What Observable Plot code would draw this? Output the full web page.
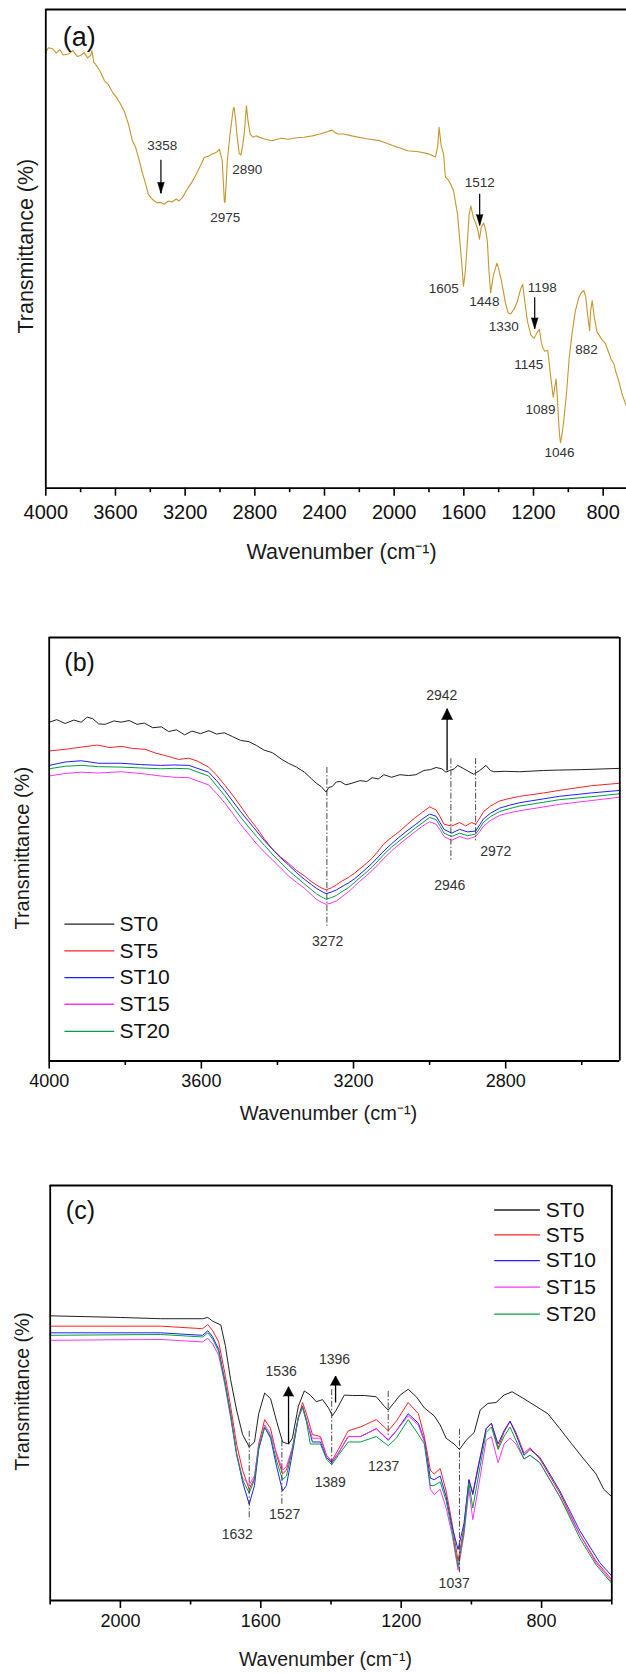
<!DOCTYPE html>
<html><head><meta charset="utf-8">
<script src="https://cdn.jsdelivr.net/npm/d3@7"></script>
<script src="https://cdn.jsdelivr.net/npm/@observablehq/plot@0.6"></script>
<style>
body{margin:0;background:#fff;}
#wrap svg{display:block;}
</style></head><body><div id="wrap"></div>
<script>
// ---------- DATA ----------
// Panel (a): single spectrum [wavenumber, relative transmittance]
const specA = [[4000,91.1],[3985,92.0],[3961,91.8],[3940,90.9],[3920,91.6],[3900,90.5],[3869,90.7],[3845,91.4],[3820,90.2],[3801,90.4],[3780,91.0],[3760,89.9],[3743,90.4],[3735,91.4],[3725,89.0],[3709,88.3],[3690,87.2],[3663,85.1],[3640,84.3],[3617,82.7],[3595,81.7],[3572,80.3],[3550,78.8],[3526,76.1],[3503,72.6],[3485,71.3],[3468,69.1],[3446,65.9],[3430,64.0],[3411,61.4],[3395,60.6],[3377,60.0],[3360,59.6],[3342,59.7],[3320,59.3],[3297,60.0],[3275,59.8],[3251,60.4],[3235,60.0],[3216,60.7],[3200,61.7],[3182,62.8],[3160,64.0],[3136,65.6],[3110,67.5],[3090,69.1],[3065,69.4],[3045,69.8],[3020,70.2],[3003,70.8],[2987,68.4],[2975,60.0],[2971,59.7],[2963,64.5],[2958,68.4],[2942,74.0],[2925,79.0],[2919,79.6],[2910,77.0],[2903,74.0],[2890,70.0],[2880,69.6],[2870,71.5],[2861,74.0],[2848,79.9],[2840,77.0],[2827,74.0],[2810,73.3],[2793,73.6],[2750,73.0],[2701,72.6],[2650,73.1],[2609,72.9],[2560,73.2],[2518,73.3],[2470,73.6],[2426,74.0],[2380,74.5],[2357,74.8],[2340,74.3],[2323,74.0],[2290,74.0],[2243,73.6],[2160,73.0],[2082,72.6],[2000,71.5],[1922,70.5],[1860,70.3],[1808,69.9],[1762,69.2],[1750,71.5],[1742,75.4],[1730,71.5],[1716,69.8],[1706,65.0],[1693,64.6],[1675,63.5],[1659,62.1],[1636,57.2],[1613,47.5],[1602,42.2],[1592,45.0],[1583,49.5],[1570,57.0],[1560,59.0],[1545,56.5],[1533,55.5],[1520,54.0],[1510,52.0],[1500,54.5],[1486,55.4],[1475,54.0],[1465,51.6],[1455,45.0],[1446,40.8],[1430,44.5],[1410,47.0],[1400,45.8],[1384,43.3],[1360,38.5],[1345,36.6],[1331,36.4],[1310,37.5],[1292,39.1],[1275,41.5],[1262,42.6],[1250,39.0],[1235,34.9],[1215,32.0],[1196,31.3],[1180,32.5],[1166,33.2],[1155,30.5],[1145,29.2],[1135,28.6],[1118,28.8],[1108,25.5],[1097,22.0],[1087,19.0],[1078,21.0],[1070,22.8],[1063,19.0],[1057,14.7],[1050,11.0],[1045,9.5],[1035,11.5],[1027,13.8],[1010,20.0],[995,27.2],[978,32.5],[960,37.0],[940,39.8],[926,40.8],[911,41.3],[900,40.0],[890,36.5],[878,32.9],[872,37.0],[863,39.2],[850,35.5],[835,32.6],[815,31.5],[800,30.7],[787,30.2],[770,28.5],[755,27.0],[739,26.0],[725,24.0],[711,22.5],[690,19.5],[667,17.2]];

// Panel (b): 4000–2500 cm-1
const st0B = [[4000,80.0],[3980,80.6],[3958,79.7],[3935,80.5],[3916,80.0],[3900,81.2],[3885,80.8],[3870,79.6],[3853,79.5],[3830,80.3],[3811,80.0],[3790,80.4],[3769,79.5],[3750,79.8],[3728,78.7],[3705,78.9],[3686,77.8],[3665,78.2],[3644,77.0],[3625,77.9],[3602,77.3],[3580,78.0],[3560,77.2],[3540,77.5],[3518,76.6],[3497,75.7],[3475,75.4],[3455,74.5],[3435,73.4],[3413,72.8],[3390,71.3],[3371,70.3],[3350,69.4],[3329,68.2],[3310,66.6],[3298,65.6],[3285,64.8],[3272,63.5],[3265,64.6],[3256,64.8],[3245,65.9],[3235,66.0],[3220,65.2],[3204,65.6],[3183,66.2],[3165,66.0],[3151,66.9],[3135,66.6],[3120,67.6],[3100,67.0],[3078,67.6],[3055,67.4],[3036,67.6],[3015,68.6],[2998,68.8],[2983,69.3],[2968,69.0],[2957,68.2],[2947,68.6],[2935,69.0],[2926,69.8],[2910,69.0],[2884,67.7],[2868,68.6],[2852,69.8],[2840,68.6],[2831,68.3],[2800,68.4],[2763,68.3],[2700,68.6],[2659,68.7],[2600,68.8],[2499,69.1]];
const st5B = [[4000,73.2],[3958,73.6],[3916,74.1],[3874,74.6],[3840,74.0],[3811,74.3],[3780,73.8],[3748,73.6],[3720,72.7],[3686,71.9],[3660,71.2],[3633,71.5],[3610,70.8],[3581,69.4],[3560,67.5],[3539,65.2],[3518,62.8],[3497,60.2],[3476,57.5],[3455,55.1],[3434,52.4],[3413,50.0],[3392,48.2],[3371,46.7],[3350,45.0],[3329,43.7],[3310,42.3],[3298,41.6],[3285,40.9],[3272,40.4],[3258,40.9],[3245,41.6],[3230,42.5],[3214,43.3],[3198,44.3],[3183,45.4],[3167,46.6],[3151,47.9],[3135,49.6],[3120,51.3],[3100,52.8],[3078,54.3],[3057,56.0],[3036,57.6],[3018,58.8],[3000,60.0],[2983,59.3],[2972,57.6],[2962,55.9],[2942,55.5],[2921,56.3],[2905,55.5],[2890,56.3],[2879,55.9],[2868,57.4],[2858,58.9],[2840,60.2],[2816,61.4],[2790,62.0],[2763,62.5],[2700,63.3],[2659,63.9],[2575,65.0],[2499,65.6]];
const st10B = [[4000,69.8],[3958,70.6],[3916,70.9],[3870,70.3],[3811,70.3],[3760,70.0],[3707,69.8],[3670,69.9],[3633,69.8],[3581,68.2],[3560,66.2],[3539,63.9],[3518,61.4],[3497,58.9],[3476,56.6],[3455,54.3],[3434,52.0],[3413,50.0],[3392,48.0],[3371,46.3],[3350,44.5],[3329,42.9],[3310,41.6],[3298,40.8],[3285,40.1],[3272,39.5],[3258,39.9],[3245,40.4],[3230,41.2],[3214,42.0],[3198,43.0],[3183,44.1],[3167,45.4],[3151,46.7],[3135,48.2],[3120,49.6],[3100,51.3],[3078,53.0],[3057,54.5],[3036,55.9],[3018,57.2],[3000,58.3],[2983,57.8],[2972,56.2],[2962,54.7],[2942,53.8],[2921,54.7],[2900,54.1],[2879,54.3],[2868,55.8],[2858,57.2],[2840,58.5],[2816,59.7],[2790,60.4],[2763,61.0],[2700,61.9],[2659,62.5],[2575,63.3],[2499,63.9]];
const st15B = [[4000,67.3],[3958,67.9],[3916,68.2],[3870,68.0],[3811,68.3],[3760,67.9],[3707,67.3],[3670,67.0],[3633,66.9],[3581,65.2],[3560,63.2],[3539,61.0],[3518,58.5],[3497,55.9],[3476,53.6],[3455,51.3],[3434,49.3],[3413,47.5],[3392,45.6],[3371,43.7],[3350,42.2],[3329,40.8],[3310,39.2],[3298,38.2],[3285,37.5],[3272,37.0],[3258,37.3],[3245,37.8],[3230,38.8],[3214,39.9],[3198,41.2],[3183,42.5],[3167,43.7],[3151,45.0],[3135,46.4],[3120,47.9],[3100,49.6],[3078,51.3],[3057,52.8],[3036,54.3],[3018,55.5],[3000,56.5],[2983,55.9],[2972,54.5],[2962,53.0],[2942,52.1],[2921,53.0],[2900,52.4],[2879,53.0],[2868,54.2],[2858,55.5],[2840,56.8],[2816,58.0],[2790,58.6],[2763,59.1],[2700,60.0],[2659,60.6],[2575,61.5],[2499,62.3]];
const st20B = [[4000,69.0],[3958,69.6],[3916,69.8],[3870,69.5],[3811,69.4],[3760,69.2],[3707,69.0],[3670,69.1],[3633,69.0],[3581,67.3],[3560,65.0],[3539,62.7],[3518,60.1],[3497,57.6],[3476,55.3],[3455,53.0],[3434,50.9],[3413,48.8],[3392,46.9],[3371,45.0],[3350,43.4],[3329,41.8],[3310,40.4],[3298,39.5],[3285,38.8],[3272,38.2],[3258,38.6],[3245,39.1],[3230,40.0],[3214,40.9],[3198,42.1],[3183,43.3],[3167,44.5],[3151,45.8],[3135,47.3],[3120,48.8],[3100,50.5],[3078,52.1],[3057,53.6],[3036,55.1],[3018,56.3],[3000,57.5],[2983,57.0],[2972,55.4],[2962,53.8],[2942,53.0],[2921,53.8],[2900,53.2],[2879,53.6],[2868,55.0],[2858,56.4],[2840,57.7],[2816,58.9],[2790,59.6],[2763,60.2],[2700,61.1],[2659,61.7],[2575,62.4],[2499,63.1]];

// Panel (c): 2200–600 cm-1
const st0C = [[2200,68.6],[2100,68.4],[1999,68.2],[1885,67.9],[1766,67.9],[1751,68.2],[1737,67.3],[1714,66.4],[1701,61.4],[1686,53.2],[1669,45.9],[1652,40.0],[1633,37.0],[1618,38.2],[1606,45.0],[1589,50.0],[1572,48.6],[1555,43.2],[1538,38.2],[1521,37.7],[1510,39.1],[1493,46.8],[1476,50.5],[1459,49.5],[1442,47.9],[1424,48.4],[1407,46.4],[1396,44.5],[1385,45.9],[1362,49.5],[1339,49.4],[1305,49.4],[1271,49.1],[1248,46.8],[1237,45.9],[1220,47.7],[1203,49.5],[1180,50.9],[1157,49.1],[1134,46.4],[1106,44.5],[1089,42.3],[1072,39.1],[1049,37.7],[1034,36.4],[1015,38.6],[992,40.5],[975,45.9],[953,47.5],[930,47.7],[907,49.5],[884,50.3],[850,48.6],[816,46.8],[782,45.0],[748,41.4],[714,37.7],[680,34.1],[645,30.5],[623,26.8],[600,25.0]];
const st5C = [[2200,66.1],[1999,66.1],[1885,66.1],[1766,65.5],[1751,66.5],[1737,65.0],[1720,62.3],[1703,55.0],[1686,46.8],[1669,37.7],[1652,31.4],[1633,26.8],[1618,29.5],[1606,37.7],[1589,43.6],[1572,41.4],[1555,35.0],[1538,30.5],[1527,31.4],[1510,36.8],[1493,44.1],[1481,47.7],[1470,45.0],[1453,40.0],[1430,39.5],[1413,35.0],[1398,33.6],[1379,36.4],[1351,40.9],[1316,41.8],[1271,43.6],[1248,41.8],[1237,40.9],[1214,43.2],[1180,47.7],[1151,45.0],[1134,39.5],[1117,31.4],[1106,30.5],[1089,31.8],[1072,26.4],[1055,18.6],[1038,9.5],[1021,17.7],[1007,29.1],[996,25.9],[981,32.3],[958,41.4],[943,42.7],[924,36.8],[907,40.5],[890,43.2],[873,40.5],[850,35.5],[833,36.8],[805,34.1],[748,25.9],[691,15.9],[645,9.5],[600,5.0]];
const st10C = [[2200,64.5],[1885,64.5],[1766,63.9],[1751,65.0],[1737,63.5],[1720,60.5],[1703,53.2],[1686,45.0],[1669,35.5],[1652,28.6],[1633,23.2],[1618,27.7],[1606,36.4],[1589,41.8],[1572,39.1],[1555,32.3],[1538,26.4],[1527,27.7],[1510,35.5],[1493,44.1],[1481,46.8],[1470,43.6],[1453,38.2],[1430,38.2],[1413,34.5],[1398,33.2],[1379,35.5],[1351,39.5],[1316,39.5],[1271,41.4],[1237,38.6],[1214,40.9],[1180,45.0],[1151,42.7],[1134,38.6],[1117,29.5],[1106,29.1],[1089,30.0],[1072,25.0],[1055,17.7],[1038,12.3],[1021,18.6],[1007,29.1],[996,25.5],[981,31.8],[958,41.4],[943,42.7],[924,37.7],[907,40.9],[890,43.2],[873,40.0],[850,35.0],[833,36.4],[805,34.5],[748,26.4],[691,16.8],[634,9.1],[600,5.9]];
const st15C = [[2200,62.7],[1885,62.9],[1766,62.3],[1751,63.2],[1737,61.8],[1720,59.1],[1703,52.3],[1686,44.1],[1669,35.5],[1652,29.5],[1633,27.9],[1618,30.0],[1606,37.3],[1589,42.3],[1572,40.0],[1555,35.5],[1538,31.4],[1527,32.3],[1510,36.8],[1493,44.1],[1481,46.4],[1470,43.2],[1453,39.1],[1430,39.1],[1413,35.0],[1398,33.4],[1379,35.5],[1351,39.5],[1316,39.5],[1271,41.4],[1237,38.8],[1214,40.9],[1180,44.5],[1151,42.3],[1134,38.2],[1117,26.8],[1106,25.5],[1089,26.8],[1072,22.3],[1055,15.9],[1038,7.3],[1021,15.9],[1007,26.8],[996,19.5],[981,26.8],[958,38.6],[943,39.5],[924,33.2],[907,37.7],[890,39.1],[873,37.7],[850,34.1],[833,35.0],[805,33.2],[748,25.0],[691,15.9],[645,9.1],[600,4.5]];
const st20C = [[2200,63.9],[1885,64.1],[1766,63.5],[1751,64.5],[1737,63.0],[1720,60.0],[1703,52.7],[1686,44.5],[1669,35.0],[1652,29.1],[1633,25.9],[1618,29.1],[1606,36.8],[1589,41.8],[1572,39.5],[1555,33.6],[1538,29.1],[1527,30.0],[1510,36.4],[1493,44.1],[1481,46.6],[1470,43.2],[1459,37.7],[1430,37.7],[1413,34.1],[1398,32.7],[1379,35.0],[1351,38.2],[1316,38.2],[1271,39.5],[1237,37.3],[1214,39.1],[1180,43.6],[1151,40.0],[1134,37.7],[1117,27.7],[1106,27.7],[1089,28.6],[1072,24.1],[1055,16.8],[1038,8.2],[1021,16.8],[1007,28.2],[996,22.3],[981,29.5],[958,40.5],[943,41.8],[924,36.4],[907,39.5],[890,41.8],[873,38.6],[850,34.1],[833,35.0],[805,33.2],[748,25.0],[691,15.0],[645,8.6],[600,4.1]];

const seriesNames = ["ST0","ST5","ST10","ST15","ST20"];
const seriesColors = ["#222222","#ff2020","#1f1fff","#ff33ff","#00a040"];

// Axis ticks
const ticksMajorA = [4000,3600,3200,2800,2400,2000,1600,1200,800];
const ticksMinorA = [3800,3400,3000,2600,2200,1800,1400,1000];
const ticksMajorB = [4000,3600,3200,2800];
const ticksMinorB = [3800,3400,3000,2600];
const ticksMajorC = [2000,1600,1200,800];
const ticksMinorC = [2200,1800,1400,1000,600];

// Annotations
const peakLabelsA = [
  {x:3332,y:71.6,t:"3358"},{x:2844,y:66.6,t:"2890"},{x:2970,y:56.5,t:"2975"},
  {x:1509,y:63.9,t:"1512"},{x:1715,y:41.7,t:"1605"},{x:1482,y:38.9,t:"1448"},
  {x:1371,y:33.8,t:"1330"},{x:1150,y:41.8,t:"1198"},{x:1227,y:25.8,t:"1145"},
  {x:896,y:28.9,t:"882"},{x:1160,y:16.4,t:"1089"},{x:1051,y:7.5,t:"1046"}];
const arrowsA = [{x:3339,y1:68.6,y2:61.6},{x:1509,y1:61.5,y2:54.9},{x:1193,y1:39.9,y2:33.3}];

const peakLabelsB = [{x:2968,y:86.4,t:"2942"},{x:3268,y:28.3,t:"3272"},{x:2947,y:41.4,t:"2946"},{x:2826,y:49.4,t:"2972"}];
const dashLinesB = [{x:3270,y1:69.4,y2:31.9},{x:2944,y1:71.5,y2:47.1},{x:2879,y1:71.5,y2:52.1}];
const arrowsB = [{x:2954,y1:68.6,y2:83.2}];

const peakLabelsC = [{x:1542,y:55.2,t:"1536"},{x:1390,y:58.0,t:"1396"},{x:1667,y:15.9,t:"1632"},{x:1532,y:20.6,t:"1527"},{x:1402,y:28.4,t:"1389"},{x:1250,y:32.3,t:"1237"},{x:1049,y:4.1,t:"1037"}];
const dashLinesC = [{x:1633,y1:40.9,y2:19.5},{x:1540,y1:38.6,y2:23.2},{x:1398,y1:50.9,y2:32.3},{x:1237,y1:50.5,y2:39.5},{x:1034,y1:41.4,y2:6.8}];
const arrowsC = [{x:1521,y1:37.7,y2:51.5},{x:1387,y1:47.7,y2:54.1}];

const legendYB = [32.3,26.0,19.7,13.4,7.0];
const legendXB = {x1:3960, x2:3829, xt:3815};
const legendYC = [94.1,88.1,81.9,75.5,69.0];
const legendXC = {x1:935, x2:805, xt:788};

const panelTags = [{x:3808,y:94.2,t:"(a)"},{x:3920,y:93.9,t:"(b)"},{x:2114,y:93.9,t:"(c)"}];
const xTitle = "Wavenumber (cm\u207B\u00B9)";
const yTitle = "Transmittance (%)";

// ---------- DRAW ----------
const FONT = "Arial, 'Liberation Sans', Helvetica, sans-serif";
const px = d => d[0], py = d => d[1];

function axes(major, minor, fs, labelDy) {
  return [
    Plot.axisX(minor, {tickSize: 4.5, tickFormat: () => "", strokeWidth: 1.6, label: null}),
    Plot.axisX(major, {tickSize: 8, tickFormat: () => "", strokeWidth: 1.6, label: null}),
    Plot.text(major, {x: d => d, text: d => String(d), frameAnchor: "bottom", lineAnchor: "middle", textAnchor: "middle", dy: labelDy, fontSize: fs, fill: "#111"})
  ];
}
function titles(fs, xdx, xdy, ydx, ydy) {
  return [
    Plot.text([xTitle], {text: d => d, frameAnchor: "bottom", lineAnchor: "middle", textAnchor: "middle", dx: xdx, dy: xdy, fontSize: fs, fill: "#1a1a1a"}),
    Plot.text([yTitle], {text: d => d, frameAnchor: "left", lineAnchor: "middle", textAnchor: "middle", rotate: -90, dx: ydx, dy: ydy, fontSize: fs, fill: "#1a1a1a"})
  ];
}
function legend(ys, xs) {
  const rows = seriesNames.map((n, i) => ({n, c: seriesColors[i], y: ys[i]}));
  return rows.flatMap(r => [
    Plot.link([r], {x1: () => xs.x1, x2: () => xs.x2, y1: "y", y2: "y", stroke: r.c, strokeWidth: 1.3}),
    Plot.text([r], {x: () => xs.xt, y: "y", text: "n", textAnchor: "start", lineAnchor: "middle", fontSize: 21, fill: "#111"})
  ]);
}
const style = {fontFamily: FONT, background: "white", overflow: "visible"};

const plotA = Plot.plot({
  width: 626, height: 575, marginTop: 9, marginBottom: 87.3, marginLeft: 45.3, marginRight: 0,
  x: {domain: [4000, 666]}, y: {domain: [0, 100], axis: null}, style,
  marks: [
    Plot.line(specA, {x: px, y: py, stroke: "#c8952c", strokeWidth: 1.1}),
    Plot.text(peakLabelsA, {x: "x", y: "y", text: "t", fontSize: 13.5, fill: "#333"}),
    Plot.link(arrowsA, {x1: "x", x2: "x", y1: "y1", y2: "y2", stroke: "black", strokeWidth: 1.2}),
    Plot.vector(arrowsA, {x: "x", y: "y2", rotate: 180, length: 11, r: 3.3, shape: "spike", anchor: "end", fill: "black", fillOpacity: 1, stroke: "black", strokeWidth: 0.6}),
    Plot.text([panelTags[0]], {x: "x", y: "y", text: "t", fontSize: 27, fill: "#111"}),
    Plot.ruleY([0, 100], {strokeWidth: 1.8}),
    Plot.ruleX([4000], {strokeWidth: 1.8}),
    ...axes(ticksMajorA, ticksMinorA, 20, 24.5),
    ...titles(21.5, 5.4, 64, -19.3, -2.7)
  ]
});

const seriesB = [st0B, st5B, st10B, st15B, st20B];
const plotB = Plot.plot({
  width: 626, height: 555, marginTop: 62, marginBottom: 69.5, marginLeft: 48.7, marginRight: 6.7,
  x: {domain: [4000, 2500]}, y: {domain: [0, 100], axis: null}, style,
  marks: [
    ...seriesB.map((s, i) => Plot.line(s, {x: px, y: py, stroke: seriesColors[i], strokeWidth: 1})),
    Plot.link(dashLinesB, {x1: "x", x2: "x", y1: "y1", y2: "y2", stroke: "#333", strokeWidth: 0.9, strokeDasharray: "6,2,1.5,2"}),
    Plot.link(arrowsB, {x1: "x", x2: "x", y1: "y1", y2: "y2", stroke: "black", strokeWidth: 1.3}),
    Plot.vector(arrowsB, {x: "x", y: "y2", rotate: 0, length: 11, r: 5.5, shape: "spike", anchor: "end", fill: "black", fillOpacity: 1, stroke: "black", strokeWidth: 0.6}),
    Plot.text(peakLabelsB, {x: "x", y: "y", text: "t", fontSize: 14, fill: "#333"}),
    Plot.text([panelTags[1]], {x: "x", y: "y", text: "t", fontSize: 25, fill: "#111"}),
    ...legend(legendYB, legendXB),
    Plot.ruleY([0, 100], {strokeWidth: 1.8}),
    Plot.ruleX([4000, 2500], {strokeWidth: 1.8}),
    ...axes(ticksMajorB, ticksMinorB, 18, 20.5),
    ...titles(20, -6, 53, -26.7, -1)
  ]
});

const seriesC = [st0C, st5C, st10C, st15C, st20C];
const plotC = Plot.plot({
  width: 626, height: 543, marginTop: 55, marginBottom: 73, marginLeft: 49.7, marginRight: 14.7,
  x: {domain: [2200, 600]}, y: {domain: [0, 100], axis: null}, style,
  marks: [
    ...seriesC.map((s, i) => Plot.line(s, {x: px, y: py, stroke: seriesColors[i], strokeWidth: 1})),
    Plot.link(dashLinesC, {x1: "x", x2: "x", y1: "y1", y2: "y2", stroke: "#333", strokeWidth: 0.9, strokeDasharray: "6,2,1.5,2"}),
    Plot.link(arrowsC, {x1: "x", x2: "x", y1: "y1", y2: "y2", stroke: "black", strokeWidth: 1.3}),
    Plot.vector(arrowsC, {x: "x", y: "y2", rotate: 0, length: 9.5, r: 5.2, shape: "spike", anchor: "end", fill: "black", fillOpacity: 1, stroke: "black", strokeWidth: 0.6}),
    Plot.text(peakLabelsC, {x: "x", y: "y", text: "t", fontSize: 14, fill: "#333"}),
    Plot.text([panelTags[2]], {x: "x", y: "y", text: "t", fontSize: 25, fill: "#111"}),
    ...legend(legendYC, legendXC),
    Plot.ruleY([0, 100], {strokeWidth: 1.8}),
    Plot.ruleX([2200, 600], {strokeWidth: 1.8}),
    ...axes(ticksMajorC, ticksMinorC, 18, 21.2),
    ...titles(19.5, -5.5, 59, -27.7, -1.5)
  ]
});

const wrap = document.getElementById("wrap");
wrap.appendChild(plotA);
wrap.appendChild(plotB);
wrap.appendChild(plotC);
</script>
</body></html>
